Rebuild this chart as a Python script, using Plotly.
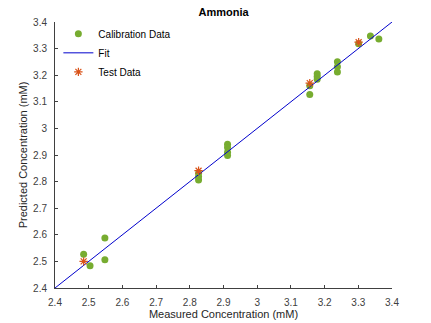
import plotly.graph_objects as go

cal_x = [2.485, 2.504, 2.548, 2.548, 2.826, 2.826, 2.826, 2.912, 2.912, 2.912, 2.912,
         3.156, 3.156, 3.178, 3.178, 3.178, 3.238, 3.238, 3.238, 3.301, 3.336, 3.361]
cal_y = [2.527, 2.484, 2.588, 2.506, 2.806, 2.818, 2.831, 2.940, 2.928, 2.910, 2.898,
         3.127, 3.160, 3.205, 3.195, 3.185, 3.251, 3.232, 3.212, 3.318, 3.347, 3.336]
test_x = [2.485, 2.826, 3.156, 3.301]
test_y = [2.500, 2.841, 3.170, 3.324]
fit_x = [2.4, 3.4]
fit_y = [2.4, 3.4]
ticks_x = [2.4, 2.5, 2.6, 2.7, 2.8, 2.9, 3.0, 3.1, 3.2, 3.3, 3.4]
tick_text = ["2.4", "2.5", "2.6", "2.7", "2.8", "2.9", "3", "3.1", "3.2", "3.3", "3.4"]

FONT = "Liberation Sans, Arial"

fig = go.Figure()
fig.add_trace(go.Scatter(x=cal_x, y=cal_y, mode="markers", name="Calibration Data",
                         marker=dict(color="#77AC30", size=7, line=dict(width=0))))
fig.add_trace(go.Scatter(x=fit_x, y=fit_y, mode="lines", name="Fit",
                         line=dict(color="#0000CC", width=1)))
fig.add_trace(go.Scatter(x=test_x, y=test_y, mode="markers", name="Test Data",
                         marker=dict(color="#D95319", size=7, symbol="asterisk-open",
                                     line=dict(color="#D95319", width=1.2))))

axis_common = dict(range=[2.4, 3.4], tickvals=ticks_x, ticktext=tick_text,
                   ticks="inside", ticklen=3, tickcolor="#404040", showline=True,
                   linecolor="#404040", linewidth=1, showgrid=False, zeroline=False,
                   tickfont=dict(family=FONT, size=10, color="#404040"),
                   mirror=False, automargin=False)

fig.update_layout(
    width=431, height=323,
    margin=dict(l=55, r=39, t=22, b=35),
    paper_bgcolor="white", plot_bgcolor="white",
    title=dict(text="<b>Ammonia</b>", xref="paper", x=0.5, xanchor="center",
               y=0.963, yanchor="middle",
               font=dict(family=FONT, size=11, color="#000000")),
    xaxis=dict(**axis_common, ticklabelstandoff=5,
               title=dict(text="Measured Concentration (mM)", standoff=1,
                          font=dict(family=FONT, size=11, color="#262626"))),
    yaxis=dict(**axis_common, ticklabelstandoff=5,
               title=dict(text="Predicted Concentration (mM)", standoff=3,
                          font=dict(family=FONT, size=11, color="#262626"))),
    legend=dict(x=0.01, y=1.01, xanchor="left", yanchor="top", bgcolor="rgba(255,255,255,0)",
                font=dict(family=FONT, size=10, color="#000000"),
                itemwidth=30, tracegroupgap=0),
    showlegend=True,
)

fig.write_html("out.html")
